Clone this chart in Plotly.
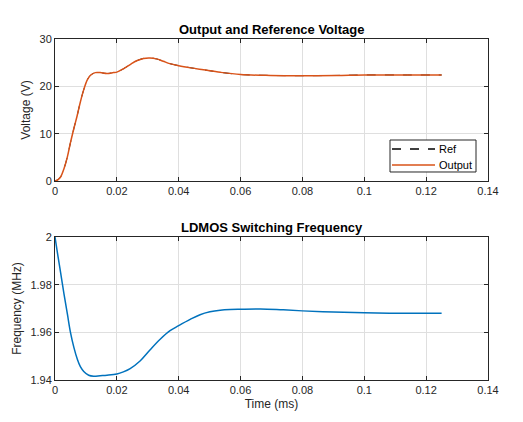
"""
Output/reference voltage and LDMOS switching frequency (two stacked axes)
"""
import plotly.graph_objects as go
from plotly.subplots import make_subplots

# time axis for the voltage trace (ms)
t_v = [0, 0.0010, 0.0018, 0.0029, 0.0040, 0.0050, 0.0061, 0.0072, 0.0082,
       0.0093, 0.0104, 0.0114, 0.0130, 0.0146, 0.0168, 0.0189, 0.0200,
       0.0221, 0.0243, 0.0264, 0.0286, 0.0307, 0.0328, 0.0350, 0.0371,
       0.0400, 0.0440, 0.0480, 0.0535, 0.0600, 0.0696, 0.0800, 0.0910,
       0.1000, 0.1126, 0.1250]
v_out = [0, 0.3, 0.85, 2.6, 5.1, 8.1, 11.1, 13.9, 16.7,
         19.3, 21.3, 22.3, 22.9, 22.9, 22.7, 22.9, 23.0,
         23.7, 24.6, 25.4, 25.9, 26.0, 25.8, 25.3, 24.8,
         24.37, 23.9, 23.5, 22.96, 22.5, 22.3, 22.25, 22.3,
         22.4, 22.4, 22.4]
v_ref = list(v_out)  # reference sits right under the output trace

# switching frequency (MHz)
t_f = [0, 0.00075, 0.0018, 0.0029, 0.0040, 0.0050, 0.0061, 0.0072, 0.0082,
       0.0093, 0.0109, 0.0125, 0.0146, 0.0168, 0.0200, 0.0221, 0.0243,
       0.0275, 0.0307, 0.0340, 0.0372, 0.0400, 0.0437, 0.0469, 0.0501,
       0.0534, 0.0566, 0.0600, 0.0664, 0.0728, 0.0800, 0.0900, 0.1000,
       0.1126, 0.1250]
f_sw = [2.0, 1.9936, 1.9852, 1.9761, 1.9677, 1.9600, 1.9537, 1.9488, 1.9456,
        1.9436, 1.9420, 1.9416, 1.9418, 1.9420, 1.9425, 1.9434, 1.9448,
        1.9480, 1.9526, 1.9571, 1.9607, 1.9628, 1.9654, 1.9674, 1.9686,
        1.9693, 1.9696, 1.9697, 1.9698, 1.9695, 1.9690, 1.9685, 1.9682,
        1.9680, 1.9680]

x_ticks = [0, 0.02, 0.04, 0.06, 0.08, 0.1, 0.12, 0.14]
x_ticktext = ['0', '0.02', '0.04', '0.06', '0.08', '0.1', '0.12', '0.14']
f_ticks = [1.94, 1.96, 1.98, 2.0]
f_ticktext = ['1.94', '1.96', '1.98', '2']

FONT = 'Liberation Sans, Arial, sans-serif'
AX = '#262626'
GRID = '#dfdfdf'
OUT_COLOR = '#D95319'

fig = make_subplots(rows=2, cols=1, vertical_spacing=0.0)

fig.add_trace(go.Scatter(x=t_v, y=v_ref, name='Ref', mode='lines', line_shape='spline',
                         showlegend=False,
                         line=dict(color='black', width=1, dash='dash')), row=1, col=1)
fig.add_trace(go.Scatter(x=t_v, y=v_out, name='Output', mode='lines', line_shape='spline',
                         showlegend=False,
                         line=dict(color=OUT_COLOR, width=1.5)), row=1, col=1)
fig.add_trace(go.Scatter(x=t_f, y=f_sw, mode='lines', line_shape='spline', showlegend=False,
                         line=dict(color='#0072BD', width=1.5)), row=2, col=1)

axis_style = dict(showline=True, mirror='ticks', linecolor=AX, linewidth=1,
                  ticks='inside', ticklen=4, tickcolor=AX, showgrid=True,
                  gridcolor=GRID, zeroline=False, automargin=False,
                  tickfont=dict(family=FONT, size=11, color=AX))

fig.update_xaxes(range=[0, 0.14], tickvals=x_ticks, ticktext=x_ticktext, **axis_style)
fig.update_xaxes(domain=[0, 1])
fig.update_yaxes(**axis_style)
fig.update_yaxes(range=[0, 30], tickvals=[0, 10, 20, 30], domain=[0.5836, 1], row=1, col=1,
                 title=dict(text='Voltage (V)', font=dict(family=FONT, size=12, color=AX), standoff=6))
fig.update_yaxes(range=[1.94, 2.0], tickvals=f_ticks, ticktext=f_ticktext, domain=[0, 0.4194],
                 row=2, col=1,
                 title=dict(text='Frequency (MHz)', font=dict(family=FONT, size=12, color=AX), standoff=6))
fig.update_xaxes(title=dict(text='Time (ms)', font=dict(family=FONT, size=12, color=AX), standoff=4),
                 row=2, col=1)

# subplot titles
fig.add_annotation(x=0.5, y=1.0, xref='paper', yref='paper', yanchor='bottom', yshift=0,
                   text='<b>Output and Reference Voltage</b>', showarrow=False,
                   font=dict(family=FONT, size=13, color='black'))
fig.add_annotation(x=0.5, y=0.4194, xref='paper', yref='paper', yanchor='bottom', yshift=0,
                   text='<b>LDMOS Switching Frequency</b>', showarrow=False,
                   font=dict(family=FONT, size=13, color='black'))

# compact matlab-style legend box (plotly's own legend rows are too tall)
fig.add_shape(type='rect', xref='paper', yref='paper', x0=0.7737, x1=0.9723, y0=0.61, y1=0.7038,
              line=dict(color=AX, width=1), fillcolor='white', layer='above')
legend_rows = [('Ref', 'black', 'dash', 0.6774), ('Output', OUT_COLOR, 'solid', 0.6305)]
for name, col, dash, yy in legend_rows:
    fig.add_shape(type='line', xref='paper', yref='paper', x0=0.7783, x1=0.8776, y0=yy, y1=yy,
                  line=dict(color=col, width=1.3, dash=dash), layer='above')
    fig.add_annotation(x=0.8823, y=yy, xref='paper', yref='paper', xanchor='left', yanchor='middle',
                       text=name, showarrow=False, font=dict(family=FONT, size=11, color='black'))

# the page adds an 8px body margin, so the margins are trimmed to match
fig.update_layout(
    width=523, height=422,
    margin=dict(l=47, r=43, t=31, b=50),
    paper_bgcolor='white', plot_bgcolor='white',
    font=dict(family=FONT, color=AX),
)

fig.write_html("out.html")
